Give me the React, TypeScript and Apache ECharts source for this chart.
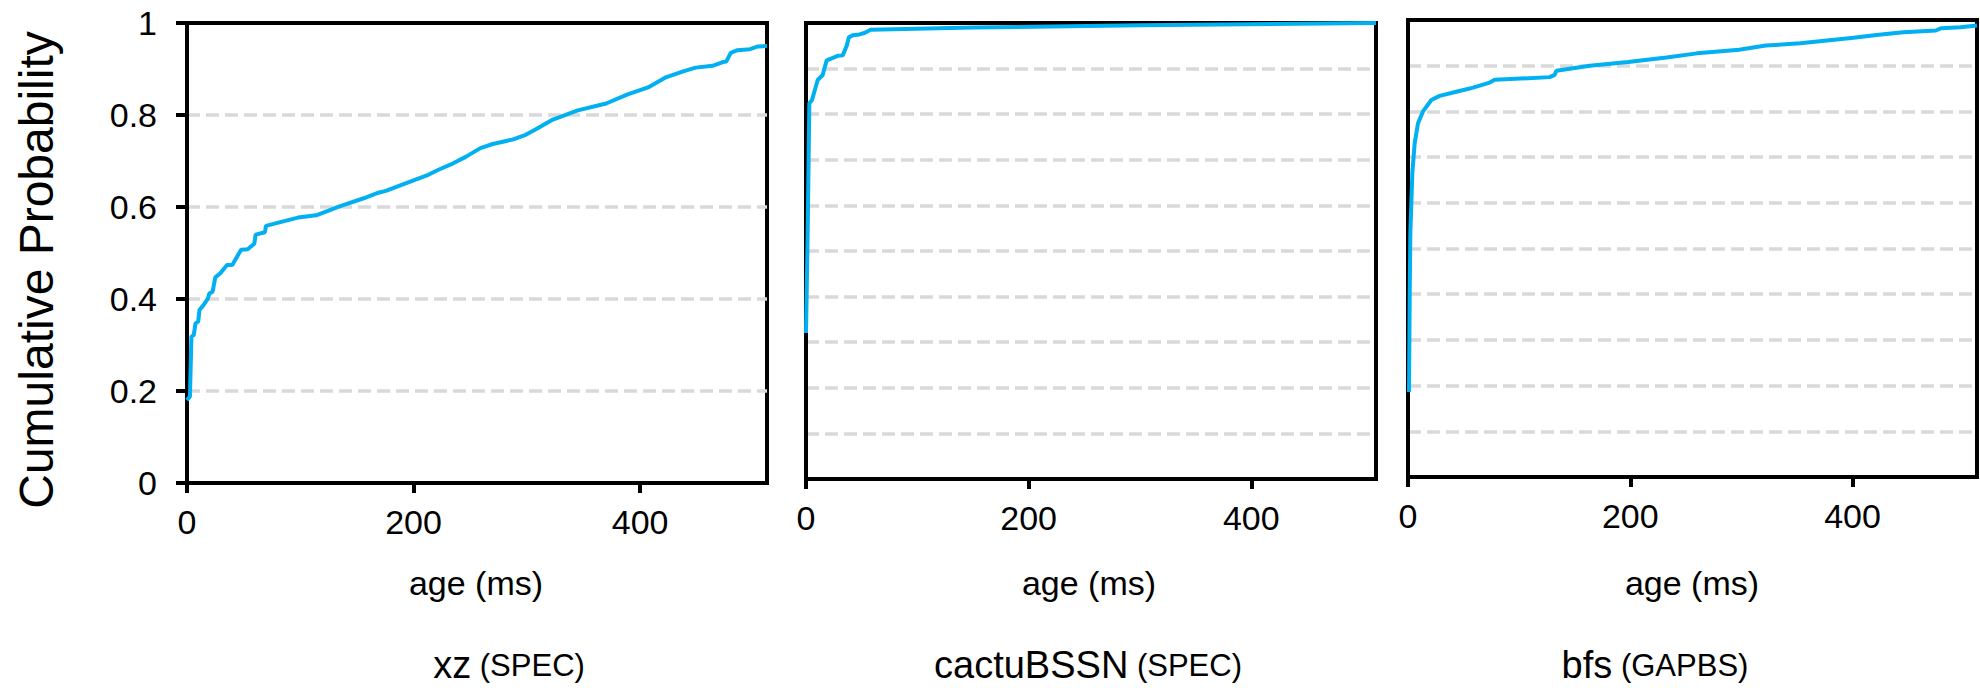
import React, { useEffect, useRef } from "react";
import * as echarts from "echarts";

// ---- data ----
const xTickValues = [0, 200, 400];
const yTickValues = [0, 0.2, 0.4, 0.6, 0.8, 1];
const panelTitles = ["xz", "cactuBSSN", "bfs"];
const panelSuites = ["(SPEC)", "(SPEC)", "(GAPBS)"];
const xAxisName = "age (ms)";
const yAxisName = "Cumulative Probability";

const xzAge = [0, 2.6, 3.9, 6, 7.5, 9.9, 11, 14.7, 18.6, 19.7, 22.6, 25, 29.4, 35.3, 40, 47.7, 53.6, 59.4, 60.6, 68.8, 69.7, 80.6, 98, 114, 125, 134, 156, 169, 175.5, 200, 213, 222, 235, 246, 259, 270, 288, 299, 308, 323, 345, 370, 389, 407, 422, 438, 449, 464, 473, 476, 480, 486, 497, 504, 512];
const xzProb = [0.18, 0.188, 0.318, 0.322, 0.347, 0.351, 0.376, 0.387, 0.402, 0.412, 0.416, 0.447, 0.456, 0.474, 0.474, 0.507, 0.508, 0.52, 0.54, 0.545, 0.559, 0.566, 0.577, 0.582, 0.592, 0.601, 0.619, 0.631, 0.635, 0.658, 0.67, 0.681, 0.695, 0.709, 0.728, 0.737, 0.747, 0.757, 0.769, 0.79, 0.81, 0.825, 0.845, 0.86, 0.881, 0.895, 0.903, 0.907, 0.915, 0.916, 0.935, 0.941, 0.943, 0.949, 0.95];

const cactuAge = [0, 1.5, 3, 5.4, 10.5, 15, 16.5, 18.6, 22.5, 28.5, 33, 36.6, 38.4, 42, 48, 52.5, 58, 150, 300, 512];
const cactuProb = [0.32, 0.54, 0.824, 0.831, 0.875, 0.886, 0.9, 0.918, 0.922, 0.928, 0.929, 0.95, 0.968, 0.973, 0.975, 0.978, 0.985, 0.99, 0.995, 1.0];

const bfsAge = [0.9, 1.5, 2.1, 3.9, 6, 9, 13.5, 21, 28.5, 43.5, 55.5, 73.5, 78, 127.5, 132, 133.5, 163.5, 198, 232.6, 260, 298, 322, 353, 377, 401, 421.6, 445.7, 474.9, 480, 497, 512];
const bfsProb = [0.186, 0.387, 0.534, 0.665, 0.73, 0.774, 0.8, 0.825, 0.834, 0.843, 0.85, 0.863, 0.869, 0.875, 0.88, 0.889, 0.9, 0.908, 0.918, 0.927, 0.935, 0.944, 0.949, 0.955, 0.961, 0.967, 0.973, 0.977, 0.982, 0.984, 0.988];

const X_MAX = 512;
const FONT = "'Liberation Sans', Arial, sans-serif";
const LINE_COLOR = "#00b0f0";
const GRID_COLOR = "#d9d9d9";

function pairs(xs: number[], ys: number[]) {
  return xs.map((x, i) => [x, ys[i]]);
}

export default function App() {
  const ref = useRef<HTMLDivElement | null>(null);

  useEffect(() => {
    if (!ref.current) return;
    const chart = echarts.init(ref.current, undefined, { renderer: "svg" });

    const grids = [
      { left: 187, top: 23, width: 580, height: 460 },
      { left: 806, top: 23, width: 570, height: 456 },
      { left: 1408, top: 20, width: 569, height: 457 },
    ].map((g) => ({
      ...g,
      show: true,
      borderColor: "#000",
      borderWidth: 4,
      backgroundColor: "transparent",
    }));

    const xAxes = grids.map((_, i) => ({
      type: "value",
      gridIndex: i,
      min: 0,
      max: X_MAX,
      interval: 200,
      axisLine: { show: true, lineStyle: { color: "#000", width: 4 } },
      axisTick: {
        show: true,
        length: 10,
        customValues: xTickValues,
        lineStyle: { color: "#000", width: 4 },
      },
      axisLabel: {
        show: true,
        customValues: xTickValues,
        color: "#000",
        fontSize: 34,
        fontFamily: FONT,
        margin: 22,
      },
      splitLine: { show: false },
    }));

    const yAxes = grids.map((_, i) => ({
      type: "value",
      gridIndex: i,
      min: 0,
      max: 1,
      interval: i === 0 ? 0.2 : 0.1,
      axisLine: { show: true, lineStyle: { color: "#000", width: 4 } },
      axisTick: {
        show: i === 0,
        length: 11,
        lineStyle: { color: "#000", width: 4 },
      },
      axisLabel: {
        show: i === 0,
        color: "#000",
        fontSize: 34,
        fontFamily: FONT,
        margin: 30,
        customValues: i === 0 ? yTickValues : undefined,
        formatter: (v: number) => String(Math.round(v * 10) / 10),
      },
      splitLine: {
        show: true,
        showMinLine: false,
        showMaxLine: false,
        lineStyle: { color: GRID_COLOR, width: 3.5, type: [13, 6] },
      },
    }));

    const seriesData = [
      pairs(xzAge, xzProb),
      pairs(cactuAge, cactuProb),
      pairs(bfsAge, bfsProb),
    ];

    const series = seriesData.map((d, i) => ({
      type: "line",
      xAxisIndex: i,
      yAxisIndex: i,
      data: d,
      showSymbol: false,
      symbol: "none",
      smooth: false,
      lineStyle: { color: LINE_COLOR, width: 4 },
      z: 3,
    }));

    const axisNameX = [476, 1089, 1692];
    const titleX = [509, 1088, 1655];

    const graphic: any[] = [
      {
        type: "text",
        x: 36,
        y: 270,
        rotation: Math.PI / 2,
        style: {
          text: yAxisName,
          fill: "#000",
          font: `48px ${FONT}`,
          align: "center",
          verticalAlign: "middle",
        },
      },
    ];
    axisNameX.forEach((x) =>
      graphic.push({
        type: "text",
        x,
        y: 583,
        style: {
          text: xAxisName,
          fill: "#000",
          font: `34px ${FONT}`,
          align: "center",
          verticalAlign: "middle",
        },
      })
    );
    titleX.forEach((x, i) =>
      graphic.push({
        type: "text",
        x,
        y: 665,
        style: {
          text: `{a|${panelTitles[i]}} {b|${panelSuites[i]}}`,
          align: "center",
          verticalAlign: "middle",
          rich: {
            a: { fontSize: 38, fontFamily: FONT, fill: "#000", color: "#000" },
            b: { fontSize: 31, fontFamily: FONT, fill: "#000", color: "#000" },
          },
          fill: "#000",
          font: `31px ${FONT}`,
        },
      })
    );

    chart.setOption({
      animation: false,
      backgroundColor: "#fff",
      grid: grids,
      xAxis: xAxes,
      yAxis: yAxes,
      series,
      graphic,
    });

    return () => chart.dispose();
  }, []);

  return (
    <div
      ref={ref}
      style={{ position: "absolute", left: 0, top: 0, width: 1980, height: 688 }}
    />
  );
}
